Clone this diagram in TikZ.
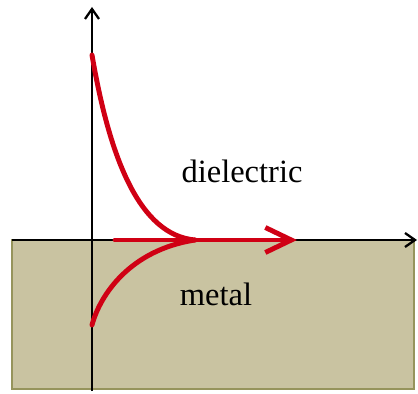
\documentclass[tikz,border=0pt]{standalone}
\usepackage{fontspec}
\setmainfont{Liberation Serif}
\usetikzlibrary{arrows.meta}
\definecolor{metalfill}{RGB}{201,195,161}
\definecolor{metaledge}{RGB}{150,148,92}
\definecolor{wavered}{RGB}{208,0,20}
\tikzset{
	axis/.style={line width=1.3pt, -{Straight Barb[length=2mm, width=2.8mm]}},
	wave/.style={line width=2.8pt, wavered, line cap=round},
	label/.style={font=\fontsize{18.5}{20}\selectfont, inner sep=0pt, anchor=base}
}
\begin{document}
\begin{tikzpicture}[x=0.02cm, y=-0.02cm]
		\useasboundingbox (0,0) rectangle (418,394);
		% metal half space
		\draw[fill=metalfill, draw=metaledge, line width=1pt] (12,240) rectangle (414,389);
		
		\coordinate (origin) at (92,240);
		\coordinate (xleft) at (12,240);
		\coordinate (xend) at (417,240);
		\coordinate (ybottom) at (92,391);
		\coordinate (yend) at (92,7);
		\coordinate (meet) at (195,240);
		\coordinate (wavestart) at (115,240);
		\coordinate (waveend) at (297,240);
		
		\draw[axis] (xleft) -- (xend);
		\draw[axis] (ybottom) -- (yend);
		
		% field decay
		\draw[wave] (92,55) .. controls (110,160) and (140,235) .. (meet);
		\draw[wave] (92,325) .. controls (100,295) and (130,250) .. (meet);
		\draw[wave, -{Straight Barb[length=5.2mm, width=5mm]}] (wavestart) -- (waveend);
		
		\node (dielectric) [label] at (242,183) {dielectric};
		\node (metal) [label] at (216,305) {metal};
	\end{tikzpicture}
\end{document}
